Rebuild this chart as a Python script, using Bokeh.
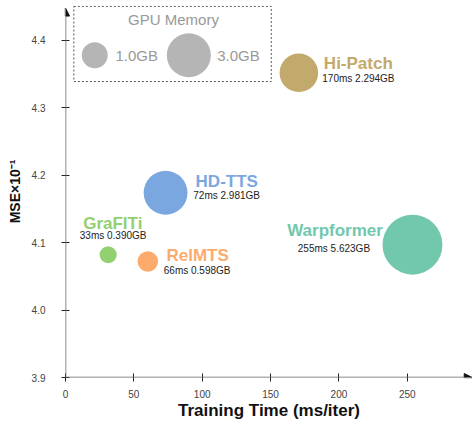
import math
from bokeh.plotting import figure
from bokeh.models import (ColumnDataSource, Range1d, FixedTicker, Arrow, NormalHead)
from bokeh.core.properties import value
from bokeh.embed import file_html
from bokeh.resources import INLINE

# ---- data ----
models = ["GraFITi", "RelMTS", "HD-TTS", "Hi-Patch", "Warpformer"]
train_time = [31.2, 60.2, 73.2, 170.7, 253.8]      # x position, ms/iter
mse = [4.082, 4.072, 4.174, 4.352, 4.097]           # MSE x10^-1
memory_gb = [0.390, 0.598, 2.981, 2.294, 5.623]
info_text = ["33ms 0.390GB", "66ms 0.598GB", "72ms 2.981GB", "170ms  2.294GB", "255ms 5.623GB"]
colors = ["#93d06f", "#fcab6c", "#7ba7e1", "#c2a96c", "#72c8ad"]

x_ticks = [0, 50, 100, 150, 200, 250]
y_ticks = [3.9, 4.0, 4.1, 4.2, 4.3, 4.4]
legend_gb = [1.0, 3.0]
legend_text = ["1.0GB", "3.0GB"]

# ---- styles / layout ----
def bubble(gb):
    return math.sqrt(46 + 630 * gb)

name_dx = [-25, 18.7, 30, 25, -125.3]
name_dy = [-31, -6, -11, -9, -14]
info_dx = [-28.4, 16, 27.7, 23.4, -114.7]
info_dy = [-19, 9, 3, 6, 3.5]

FONT = "Liberation Sans"
X_END, Y_END = 297.5, 4.448

src = ColumnDataSource(dict(
    x=train_time, y=mse, size=[bubble(g) for g in memory_gb], color=colors,
    name=models, info=info_text,
    ndx=name_dx, ndy=name_dy, idx=info_dx, idy=info_dy,
))

p = figure(width=472, height=422, output_backend="svg", toolbar_location=None,
           x_range=Range1d(0, 297.7), y_range=Range1d(3.9, 4.4518),
           min_border_left=65, min_border_right=0, min_border_top=5, min_border_bottom=39)
p.outline_line_color = None
p.grid.visible = False
p.background_fill_color = "white"

for ax in (p.xaxis[0], p.yaxis[0]):
    ax.axis_line_color = None
    ax.major_tick_line_color = "#222222"
    ax.major_tick_in = 4
    ax.major_tick_out = 4
    ax.minor_tick_line_color = None
    ax.major_label_text_font = FONT
    ax.major_label_text_font_size = "10px"
    ax.major_label_text_color = "#444444"
    ax.axis_label_text_font = FONT
    ax.axis_label_text_font_style = "bold"
    ax.axis_label_text_color = "#111111"
p.xaxis.ticker = FixedTicker(ticks=x_ticks)
p.yaxis.ticker = FixedTicker(ticks=y_ticks)
p.xaxis.major_label_overrides = {t: str(t) for t in x_ticks}
p.yaxis.major_label_overrides = {t: f"{t:.1f}" for t in y_ticks}
p.xaxis.major_label_standoff = 8
p.yaxis.major_label_standoff = 16
p.yaxis.major_label_text_baseline = "middle"

p.xaxis.axis_label = "Training Time (ms/iter)"
p.xaxis.axis_label_text_font_size = "17px"
p.xaxis.axis_label_standoff = 0
p.yaxis.axis_label = "MSE×10⁻¹"
p.yaxis.axis_label_text_font_size = "14px"
p.yaxis.axis_label_standoff = 6

# axis lines with arrows
p.add_layout(Arrow(end=NormalHead(size=8, fill_color="#111111", line_color="#111111"),
                   x_start=0, y_start=3.9, x_end=0, y_end=Y_END,
                   line_color="#666666", line_width=1.5))
p.add_layout(Arrow(end=NormalHead(size=8, fill_color="#111111", line_color="#111111"),
                   x_start=0, y_start=3.9, x_end=X_END, y_end=3.9,
                   line_color="#666666", line_width=1.5))

# bubbles
p.scatter("x", "y", size="size", color="color", line_color=None, source=src)
p.text("x", "y", text="name", x_offset="ndx", y_offset="ndy", text_align="left",
       text_baseline="middle", text_color="color", text_font=value(FONT),
       text_font_style="bold", text_font_size="17px", source=src)
p.text("x", "y", text="info", x_offset="idx", y_offset="idy", text_align="left",
       text_baseline="middle", text_color="#222222", text_font=value(FONT),
       text_font_size="10px", source=src)

# legend (GPU memory)
p.quad(left=[6.1], right=[150.5], bottom=[4.339], top=[4.4505], fill_color=None,
       line_color="#555555", line_dash="2 2", line_width=1)
leg_x = [21.4, 90.2]
leg_y = [4.378, 4.378]
p.scatter(leg_x, leg_y, size=[bubble(g) for g in legend_gb], color="#b5b5b5", line_color=None)
p.text(leg_x, leg_y, text=legend_text, x_offset=[20.7, 28.4], y_offset=[0, 0],
       text_baseline="middle", text_align="left", text_color="#999999",
       text_font=value(FONT), text_font_size="15px")
p.text([79.0], [4.4307], text=["GPU Memory"], text_baseline="middle", text_align="center",
       text_color="#999999", text_font=value(FONT), text_font_size="15px")

open("out.html", "w").write(file_html(p, INLINE))
